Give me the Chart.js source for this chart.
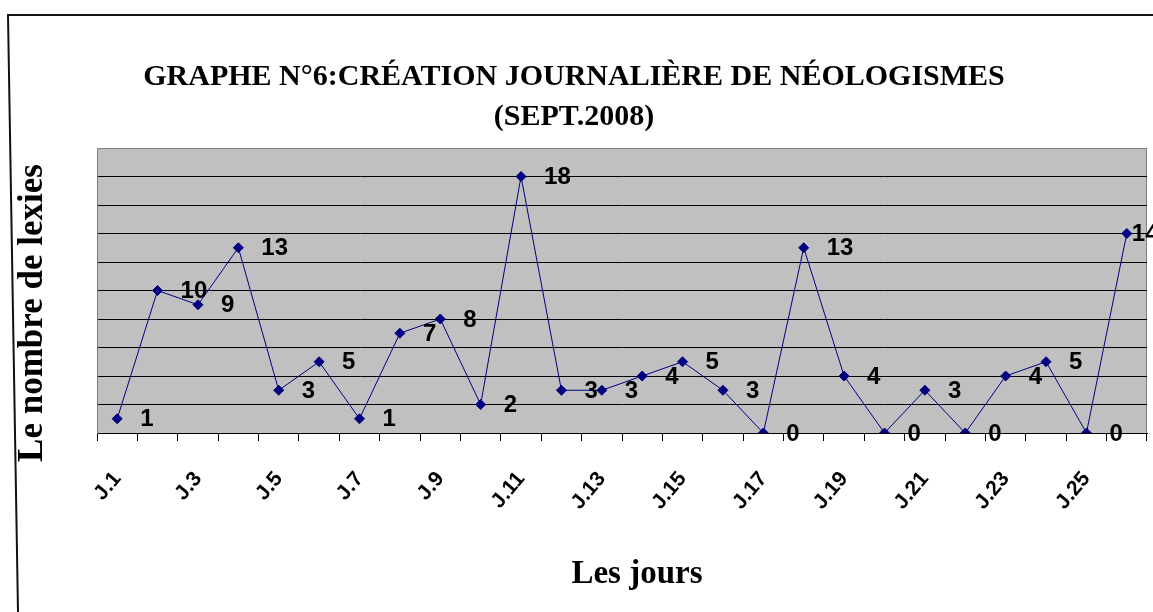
<!DOCTYPE html>
<html>
<head>
<meta charset="utf-8">
<script src="https://cdn.jsdelivr.net/npm/chart.js@4"></script>
<style>
  body { margin: 0; background: #fff; }
  canvas { display: block; }
</style>
</head>
<body>
<canvas id="myChart" width="1153" height="612"></canvas>
<script>
// data
const days = ["J.1","J.2","J.3","J.4","J.5","J.6","J.7","J.8","J.9","J.10","J.11","J.12","J.13",
              "J.14","J.15","J.16","J.17","J.18","J.19","J.20","J.21","J.22","J.23","J.24","J.25","J.26"]
const lexies = [1, 10, 9, 13, 3, 5, 1, 7, 8, 2, 18, 3, 3, 4, 5, 3, 0, 13, 4, 0, 3, 0, 4, 5, 0, 14]
const titleLines = ["GRAPHE N°6:CRÉATION JOURNALIÈRE DE NÉOLOGISMES", "(SEPT.2008)"]
const yTitle = "Le nombre de lexies"
const xTitle = "Les jours"

const serif = "'Liberation Serif', 'Times New Roman', serif"
const sans = "'Liberation Sans', Arial, sans-serif"

// gray plot area + frame of the scanned page
const plotBack = {
    id: "plotBack",
    beforeDraw(chart) {
        const { ctx, chartArea: a } = chart
        ctx.save()
        ctx.fillStyle = "#c0c0c0"
        ctx.fillRect(a.left, a.top, a.right - a.left, a.bottom - a.top)
        ctx.strokeStyle = "#808080"
        ctx.lineWidth = 1
        ctx.strokeRect(a.left + 0.5, a.top + 0.5, a.right - a.left - 1, a.bottom - a.top)
        // page frame
        ctx.strokeStyle = "#111"
        ctx.lineWidth = 2
        ctx.beginPath()
        ctx.moveTo(1153, 15)
        ctx.lineTo(8, 15)
        ctx.lineTo(18, 612)
        ctx.stroke()
        ctx.restore()
    }
}

// axis titles, placed like in the original
const axisTitles = {
    id: "axisTitles",
    afterDraw(chart) {
        const { ctx, chartArea: a } = chart
        ctx.save()
        ctx.fillStyle = "#000"
        ctx.textAlign = "center"
        ctx.textBaseline = "middle"
        ctx.font = "bold 33px " + serif
        ctx.fillText(xTitle, a.left + 540, 574)
        ctx.translate(33, a.top + 165)
        ctx.rotate(-Math.PI / 2)
        ctx.font = "bold 35px " + serif
        ctx.fillText(yTitle, 0, 0)
        ctx.restore()
    }
}

// value labels to the right of each point
const valueLabels = {
    id: "valueLabels",
    afterDatasetsDraw(chart) {
        const ctx = chart.ctx
        const meta = chart.getDatasetMeta(0)
        ctx.save()
        ctx.font = "bold 24px " + sans
        ctx.fillStyle = "#000"
        ctx.textAlign = "left"
        ctx.textBaseline = "middle"
        meta.data.forEach((pt, i) => {
            const txt = String(lexies[i])
            let x = pt.x + 23
            // pushed back in when it would leave the page
            if (x + ctx.measureText(txt).width > chart.width) x = pt.x + 5
            ctx.fillText(txt, x, pt.y + 1)
        })
        ctx.restore()
    }
}

new Chart("myChart", {
    type: "line",
    data: {
        labels: days,
        datasets: [{
            data: lexies,
            borderColor: "#000080",
            borderWidth: 1,
            backgroundColor: "#000080",
            pointStyle: "rectRot",
            pointRadius: 5,
            pointBorderWidth: 1,
            tension: 0
        }]
    },
    options: {
        responsive: false,
        animation: false,
        layout: { padding: { left: 0, right: 5, top: 0, bottom: 0 } },
        plugins: {
            legend: { display: false },
            tooltip: { enabled: false },
            title: {
                display: true,
                text: titleLines,
                color: "#000",
                font: { family: serif, size: 30, weight: "bold", lineHeight: "40px" },
                padding: { top: 57, bottom: 11 }
            }
        },
        scales: {
            x: {
                offset: true,
                grid: { offset: true, drawOnChartArea: false, drawTicks: true, tickLength: 8, color: "#000" },
                border: { display: true, color: "#000", width: 1 },
                ticks: {
                    autoSkip: false,
                    minRotation: 50,
                    maxRotation: 50,
                    padding: 26,
                    color: "#000",
                    font: { family: sans, size: 21, weight: "bold" },
                    callback: (v, i) => i % 2 === 0 ? days[i] : ""
                },
                afterFit: s => { s.height = 179; s.paddingLeft = 0; s.paddingRight = 0 }
            },
            y: {
                min: 0,
                max: 20,
                ticks: { display: false, stepSize: 2 },
                grid: {
                    drawTicks: false,
                    color: c => c.tick && c.tick.value === 20 ? "#808080" : "#000"
                },
                border: { display: true, color: "#808080" },
                afterFit: s => { s.width = 97 }
            }
        }
    },
    plugins: [plotBack, valueLabels, axisTitles]
})
</script>
</body>
</html>
